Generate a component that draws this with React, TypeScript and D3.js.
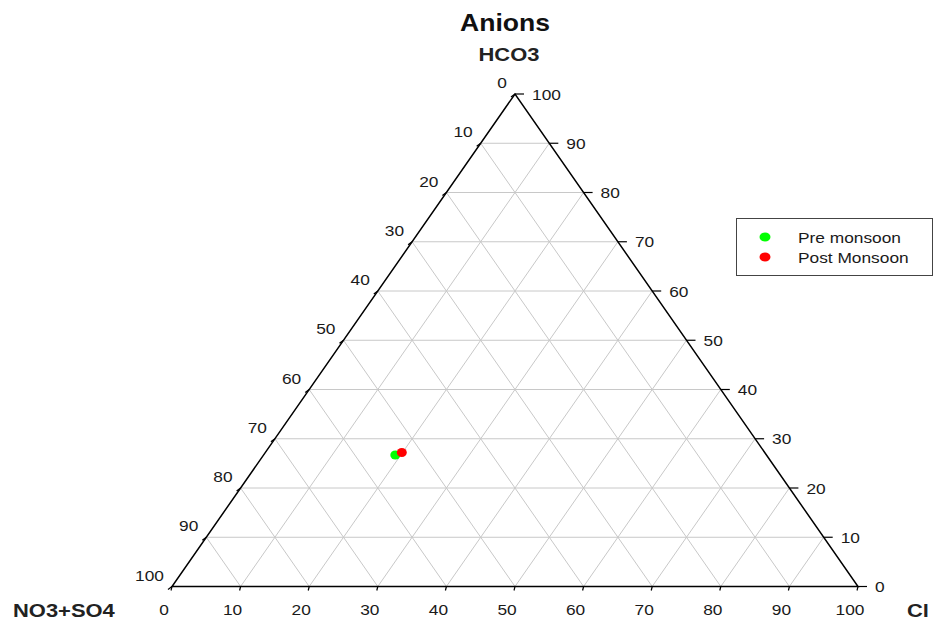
import React from "react";
import * as d3 from "d3";

const seriesNames = ["Pre monsoon", "Post Monsoon"];
const seriesColors = ["#00ff00", "#ff0000"];
const hco3Values = [26.7, 27.2];
const clValues = [19.2, 19.9];
const no3so4Values = [54.1, 52.9];
const tickValues = [0, 10, 20, 30, 40, 50, 60, 70, 80, 90, 100];
const gridValues = [10, 20, 30, 40, 50, 60, 70, 80, 90];

const W = 937;
const H = 625;
const xLeft = 172;
const xRight = 858;
const yBase = 586.5;
const yTop = 94;
const SX = 1.155;

const xs = d3.scaleLinear().domain([0, 100]).range([xLeft, xRight]);
const ys = d3.scaleLinear().domain([0, 100]).range([yBase, yTop]);

function pt(cl: number, hco3: number): [number, number] {
  return [xs(cl + hco3 / 2), ys(hco3)];
}

const font = "Arial, 'Liberation Sans', sans-serif";

function T(props: {
  x: number;
  y: number;
  size: number;
  anchor?: string;
  bold?: boolean;
  fill?: string;
  children: React.ReactNode;
}) {
  return (
    <g transform={`translate(${props.x},${props.y}) scale(${SX},1)`}>
      <text
        x={0}
        y={0}
        textAnchor={props.anchor || "start"}
        fontFamily={font}
        fontSize={props.size}
        fontWeight={props.bold ? "bold" : "normal"}
        fill={props.fill || "#1a1a1a"}
      >
        {props.children}
      </text>
    </g>
  );
}

export default function App() {
  const gridLines: [number, number, number, number][] = [];
  gridValues.forEach((v) => {
    const a = pt(0, v), b = pt(100 - v, v);
    gridLines.push([a[0], a[1], b[0], b[1]]);
    const c = pt(v, 0), d = pt(v, 100 - v);
    gridLines.push([c[0], c[1], d[0], d[1]]);
    const e = pt(100 - v, 0), f = pt(0, 100 - v);
    gridLines.push([e[0], e[1], f[0], f[1]]);
  });
  const A = pt(0, 0), B = pt(100, 0), C = pt(0, 100);
  const tri = `M${A[0]},${A[1]}L${B[0]},${B[1]}L${C[0]},${C[1]}Z`;
  return (
    <svg width={W} height={H} style={{ position: "absolute", left: 0, top: 0, background: "#fff" }}>
      <rect width={W} height={H} fill="#fff" />
      {gridLines.map((l, i) => (
        <line key={i} x1={l[0]} y1={l[1]} x2={l[2]} y2={l[3]} stroke="#c8c8c8" strokeWidth={1} />
      ))}
      <path d={tri} fill="none" stroke="#000" strokeWidth={1.5} />
      {tickValues.map((v) => {
        const [x, y] = pt(v, 0);
        return (
          <g key={"b" + v}>
            <line x1={x} y1={y} x2={x - 1} y2={y + 4} stroke="#000" strokeWidth={1.2} />
            <T x={x - 8} y={y + 28} size={15} anchor="middle">{v}</T>
          </g>
        );
      })}
      {tickValues.map((v) => {
        const [x, y] = pt(0, 100 - v);
        return (
          <g key={"l" + v}>
            <line x1={x} y1={y} x2={x - 4} y2={y + 3} stroke="#000" strokeWidth={1.2} />
            <T x={x - 8} y={y - 6} size={15} anchor="end">{v}</T>
          </g>
        );
      })}
      {tickValues.map((v) => {
        const [x, y] = pt(100 - v, v);
        return (
          <g key={"r" + v}>
            <line x1={x} y1={y} x2={x + 9} y2={y} stroke="#000" strokeWidth={1.2} />
            <T x={x + 17} y={y + 5.5} size={15}>{v}</T>
          </g>
        );
      })}
      {seriesNames.map((s, i) => {
        const [x, y] = pt(clValues[i], hco3Values[i]);
        return <ellipse key={s} cx={x} cy={y} rx={5} ry={4.5} fill={seriesColors[i]} data-no3so4={no3so4Values[i]} />;
      })}
      <T x={505} y={31} size={23} bold anchor="middle" fill="#111">Anions</T>
      <T x={509} y={61} size={19} bold anchor="middle" fill="#222">HCO3</T>
      <T x={13} y={617} size={19} bold fill="#222">NO3+SO4</T>
      <T x={907} y={617} size={19} bold fill="#222">Cl</T>
      <rect x={736.5} y={218.5} width={196} height={57} fill="#fff" stroke="#444" strokeWidth={1} />
      {seriesNames.map((s, i) => (
        <g key={"lg" + s}>
          <ellipse cx={765} cy={237 + i * 20} rx={5.5} ry={4.5} fill={seriesColors[i]} />
          <T x={798} y={242.5 + i * 20} size={15}>{s}</T>
        </g>
      ))}
    </svg>
  );
}
